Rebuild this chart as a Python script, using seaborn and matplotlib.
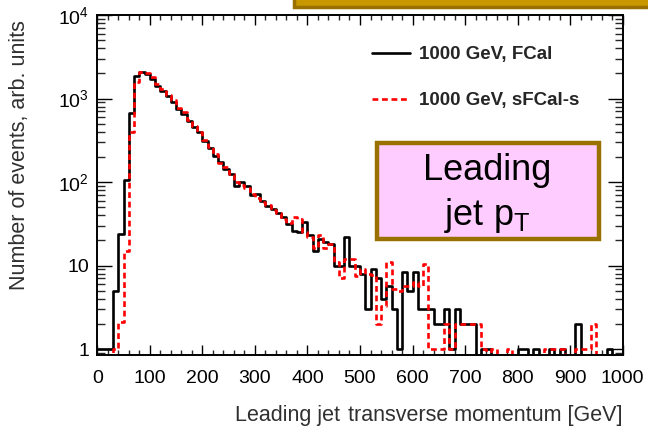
import numpy as np
import pandas as pd
import matplotlib
matplotlib.use("Agg")
import matplotlib.pyplot as plt
from matplotlib.patches import Rectangle
from matplotlib.ticker import MultipleLocator, LogLocator, FuncFormatter, NullFormatter
import seaborn as sns

# ---- data: 10 GeV bins from 0 to 1000 GeV ----
bin_edges = list(range(0, 1010, 10))
fcal_counts = [
    1, 1, 1, 5, 24, 107, 670, 1875, 2070, 1965,
    1710, 1423, 1240, 1080, 898, 748, 652, 542, 451, 393,
    312, 255, 206, 172, 143, 125, 90, 99, 90, 69,
    72, 60, 52, 47, 43, 38, 31, 26, 25, 33,
    23, 15, 21, 19, 18, 10, 10, 22, 10, 10,
    8, 3, 9, 7, 4, 5.7, 3, 1, 8.3, 5,
    8.3, 3, 3, 3, 2, 2, 3, 1, 3, 2,
    2, 2, 0, 1, 1, 0, 0, 0, 0, 0,
    1, 1, 0, 1, 0, 0, 1, 0, 1, 0,
    0, 2, 0, 0, 0, 0, 0, 1, 0, 0,
]
sfcal_counts = [
    0, 0, 0, 1, 2.1, 15, 400, 1590, 2050, 2000,
    1800, 1500, 1300, 1100, 950, 780, 680, 560, 470, 400,
    320, 265, 215, 170, 150, 125, 100, 92, 85, 72,
    64, 58, 53, 46, 42, 36, 32, 38, 36, 25,
    22, 16, 23, 16, 18, 11, 7, 12, 12, 7.5,
    9, 8, 7.7, 2, 3.3, 11, 5.2, 5, 5.7, 5.7,
    6.3, 5.7, 10.4, 1, 1, 1, 2, 1, 2, 2,
    2, 2, 2, 1, 0, 1, 0, 0, 1, 0,
    0, 0, 0, 0, 0, 1, 1, 1, 1, 0,
    0, 1, 1, 1, 2, 0, 0, 0, 0, 0,
]
series_labels = ["1000 GeV, FCal", "1000 GeV, sFCal-s"]
x_ticks = list(range(0, 1100, 100))

# ---- style ----
sns.set_theme(style="ticks")
plt.rcParams["font.family"] = ["Liberation Sans", "DejaVu Sans"]
plt.rcParams["mathtext.fontset"] = "custom"
plt.rcParams["mathtext.rm"] = "Liberation Sans"
plt.rcParams["mathtext.it"] = "Liberation Sans:italic"
plt.rcParams["mathtext.bf"] = "Liberation Sans:bold"

W, H = 648, 437
fig = plt.figure(figsize=(W / 100, H / 100), dpi=100)
fig.patch.set_facecolor("white")
ax = fig.add_axes([97.3 / W, (H - 355) / H, 525.4 / W, 340 / H])

centers = [0.5 * (a + b) for a, b in zip(bin_edges[:-1], bin_edges[1:])]
df_fcal = pd.DataFrame({"pt": centers, "n": fcal_counts})
df_sfcal = pd.DataFrame({"pt": centers, "n": sfcal_counts})

sns.histplot(data=df_fcal, x="pt", weights="n", bins=bin_edges,
             element="step", fill=False, color="black", linewidth=1.9,
             ax=ax)
sns.histplot(data=df_sfcal, x="pt", weights="n", bins=bin_edges,
             element="step", fill=False, color="#ff0000", linewidth=1.9,
             linestyle=(0, (2.2, 1.4)), ax=ax)

ax.set_yscale("log", nonpositive="clip")
ax.set_xlim(0, 1000)
ax.set_ylim(10 ** (4 - 340 / 83.5), 1e4)
ax.set_xlabel("")
ax.set_ylabel("")

ax.set_xticks(x_ticks)
ax.xaxis.set_minor_locator(MultipleLocator(20))
ax.yaxis.set_major_locator(LogLocator(base=10, numticks=10))
ax.yaxis.set_minor_locator(LogLocator(base=10, subs=np.arange(2, 10), numticks=20))
ax.yaxis.set_minor_formatter(NullFormatter())


def yfmt(v, pos):
    if abs(v - 1) < 1e-9:
        return "1"
    if abs(v - 10) < 1e-9:
        return "10"
    return r"$\mathregular{10^{%d}}$" % int(round(np.log10(v)))


ax.yaxis.set_major_formatter(FuncFormatter(yfmt))

for s in ax.spines.values():
    s.set_linewidth(1.4)
    s.set_color("black")
ax.tick_params(axis="x", which="major", direction="in", top=True, bottom=True,
               length=7.2, width=1.0, labelsize=14, pad=11, colors="black")
ax.tick_params(axis="x", which="minor", direction="in", top=True, bottom=True,
               length=3.6, width=1.0)
ax.tick_params(axis="y", which="major", direction="in", left=True, right=True,
               length=11, width=1.0, labelsize=14, pad=6, colors="black")
ax.tick_params(axis="y", which="minor", direction="in", left=True, right=True,
               length=5.5, width=1.0)

# axis titles (ROOT style: aligned to the axis ends)
fig.text(235 / W, 1 - 415 / H, "Leading jet", ha="left", va="center",
         fontsize=15.5, color="#303030")
fig.text(622 / W, 1 - 415 / H, "transverse momentum [GeV]", ha="right",
         va="center", fontsize=15.5, color="#303030")
fig.text(20 / W, 1 - 20 / H, "Number of events, arb. units", rotation=90,
         ha="center", va="top", fontsize=15.5, color="#303030")

# legend
lines = ax.get_lines()
leg = ax.legend(handles=lines[:2], labels=series_labels, loc="upper left",
                bbox_to_anchor=(372 / W, 1 - 46 / H),
                bbox_transform=fig.transFigure, frameon=False,
                prop={"weight": "bold", "size": 13.5, "family": "Liberation Sans"},
                handlelength=2.05, handletextpad=0.45, labelspacing=1.56,
                borderpad=0, borderaxespad=0)

# "Leading jet pT" box
fig.patches.append(Rectangle((377 / W, 1 - 239 / H), 222 / W, 96 / H,
                             transform=fig.transFigure, facecolor="#ffccff",
                             edgecolor="#9a7000", linewidth=3.2, zorder=5))
fig.text(487 / W, 1 - 170 / H, "Leading", ha="center", va="center",
         fontsize=26, color="black", zorder=6)
fig.text(487 / W, 1 - 216 / H, r"jet p$_\mathregular{T}$", ha="center",
         va="center", fontsize=26, color="black", zorder=6)

# partial box at top edge
fig.patches.append(Rectangle((294 / W, 1 - 7 / H), 400 / W, 30 / H,
                             transform=fig.transFigure, facecolor="#c99700",
                             edgecolor="#9a7000", linewidth=2.5, zorder=5))

fig.savefig("out.png", dpi=100)
